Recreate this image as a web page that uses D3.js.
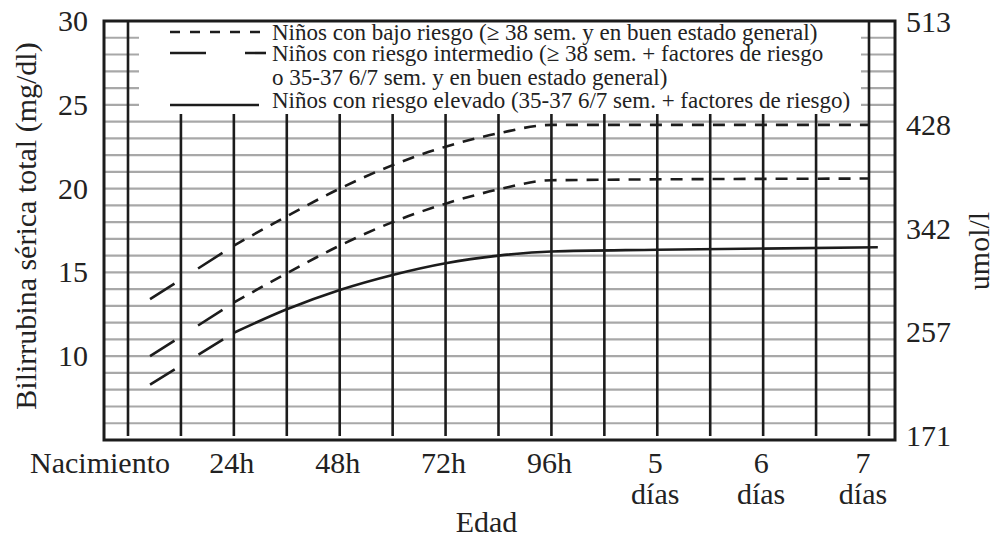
<!doctype html>
<html>
<head>
<meta charset="utf-8">
<title>Bilirrubina por edad</title>
</head>
<body style="margin:0">
<svg id="chart" width="994" height="537"></svg>
<script src="https://cdn.jsdelivr.net/npm/d3@7"></script>
<script>
// vertical grid every 12 h, labels every 24 h
const gridHours = d3.range(0, 169, 12);
const xTickHours = [0, 24, 48, 72, 96, 120, 144, 168];
const xTickLabels = [["Nacimiento"], ["24h"], ["48h"], ["72h"], ["96h"], ["5", "días"], ["6", "días"], ["7", "días"]];

const leftTicks = [10, 15, 20, 25, 30];
const rightTicks = [171, 257, 342, 428, 513];
const gridValues = d3.range(6, 30);

// curves, mg/dl; first segment (birth -> 24h) is drawn with long dashes
const curveHours = [5, 24, 36, 48, 60, 72, 84, 96, 168];
const lowRisk = [13.4, 16.6, 18.35, 20.0, 21.4, 22.5, 23.3, 23.8, 23.8];
const midRisk = [10.0, 13.2, 14.95, 16.6, 18.0, 19.1, 19.95, 20.5, 20.6];
const highHours = [5, 24, 36, 48, 60, 72, 84, 96, 120, 170];
const highRisk = [8.3, 11.4, 12.8, 13.95, 14.85, 15.55, 16.0, 16.25, 16.35, 16.5];

const legendLabels = [
  "Niños con bajo riesgo (≥ 38 sem. y en buen estado general)",
  "Niños con riesgo intermedio (≥ 38 sem. + factores de riesgo",
  "o 35-37 6/7 sem. y en buen estado general)",
  "Niños con riesgo elevado (35-37 6/7 sem. + factores de riesgo)"
];

const frame = { left: 104, right: 895, top: 21, bottom: 440 };
const legendBox = { left: 139, right: 861, bottom: 113 };
const ink = "#1c1c1c";
const face = '"Liberation Serif", "Times New Roman", serif';

const svg = d3.select("#chart");

const x = d3.scaleLinear().domain([0, 168]).range([frame.left + 24, frame.right - 26]);
const y = d3.scaleLinear().domain([5, 30]).range([frame.bottom, frame.top]);
const yRight = d3.scaleLinear().domain([171, 513]).range([frame.bottom - 4, frame.top + 1]);

// horizontal grey grid
svg.append("g").selectAll("line").data(gridValues).enter().append("line")
  .attr("x1", frame.left).attr("x2", frame.right)
  .attr("y1", d => y(d)).attr("y2", d => y(d))
  .attr("stroke", "#a8a8a8").attr("stroke-width", 2.2);

// legend box hides the grid behind it
svg.append("rect")
  .attr("x", legendBox.left).attr("y", frame.top)
  .attr("width", legendBox.right - legendBox.left).attr("height", legendBox.bottom - frame.top)
  .attr("fill", "#fff");

// vertical black lines
svg.append("g").selectAll("line").data(gridHours).enter().append("line")
  .attr("x1", d => x(d)).attr("x2", d => x(d))
  .attr("y1", (d, i) => (i === 0 || i === gridHours.length - 1) ? frame.top : legendBox.bottom + 1)
  .attr("y2", frame.bottom - 4)
  .attr("stroke", ink).attr("stroke-width", 2.6);

svg.append("rect")
  .attr("x", frame.left).attr("y", frame.top)
  .attr("width", frame.right - frame.left).attr("height", frame.bottom - frame.top)
  .attr("fill", "none").attr("stroke", ink).attr("stroke-width", 3);

// curves
const line = d3.line().x(d => x(d[0])).y(d => y(d[1])).curve(d3.curveMonotoneX);
const series = [
  { hours: curveHours, values: lowRisk, dash: "12,9" },
  { hours: curveHours, values: midRisk, dash: "12,9" },
  { hours: highHours, values: highRisk, dash: null }
];
series.forEach(s => {
  const pts = s.hours.map((h, i) => [h, s.values[i]]);
  svg.append("path").attr("d", line(pts.slice(0, 2)))
    .attr("fill", "none").attr("stroke", ink).attr("stroke-width", 2.6)
    .attr("stroke-dasharray", "29,28");
  svg.append("path").attr("d", line(pts.slice(1)))
    .attr("fill", "none").attr("stroke", ink).attr("stroke-width", 2.6)
    .attr("stroke-dasharray", s.dash);
});

// legend
const lg = svg.append("g");
const legendBaselines = [40, 61, 85, 108];
const sampleY = [32, 53, null, 105];
const sampleDash = ["10,10", "36,39", null, null];
[0, 1, 3].forEach(i => {
  lg.append("line").attr("x1", 170).attr("x2", i === 3 ? 259 : 266)
    .attr("y1", sampleY[i]).attr("y2", sampleY[i])
    .attr("stroke", ink).attr("stroke-width", 2.6)
    .attr("stroke-dasharray", sampleDash[i]);
});
legendLabels.forEach((t, i) => {
  lg.append("text").attr("x", 272).attr("y", legendBaselines[i])
    .attr("font-size", 23).text(t);
});

// left axis labels
svg.append("g").selectAll("text").data(leftTicks).enter().append("text")
  .attr("x", 88).attr("y", d => y(d) + 10)
  .attr("text-anchor", "end").attr("font-size", 30)
  .text(d => d);

// right axis labels
svg.append("g").selectAll("text").data(rightTicks).enter().append("text")
  .attr("x", 906).attr("y", d => yRight(d) + 10)
  .attr("font-size", 30)
  .text(d => d);

// x labels
const xl = svg.append("g").selectAll("g").data(xTickHours).enter().append("g");
xl.each(function (h, i) {
  const g = d3.select(this);
  xTickLabels[i].forEach((t, k) => {
    g.append("text")
      .attr("x", i === 0 ? x(h) - 28 : i === xTickHours.length - 1 ? x(h) - 6 : x(h) - 2)
      .attr("y", 473 + k * 31)
      .attr("text-anchor", "middle").attr("font-size", 30)
      .text(t);
  });
});

svg.append("text").attr("x", (frame.left + frame.right) / 2 - 13).attr("y", 532)
  .attr("text-anchor", "middle").attr("font-size", 30).text("Edad");

svg.append("text")
  .attr("transform", "translate(36,226) rotate(-90)")
  .attr("text-anchor", "middle").attr("font-size", 30)
  .text("Bilirrubina sérica total (mg/dl)");

svg.append("text")
  .attr("transform", "translate(989,251) rotate(-90)")
  .attr("text-anchor", "middle").attr("font-size", 30)
  .text("umol/l");

svg.selectAll("text").attr("font-family", face).attr("fill", "#222");
</script>
</body>
</html>
